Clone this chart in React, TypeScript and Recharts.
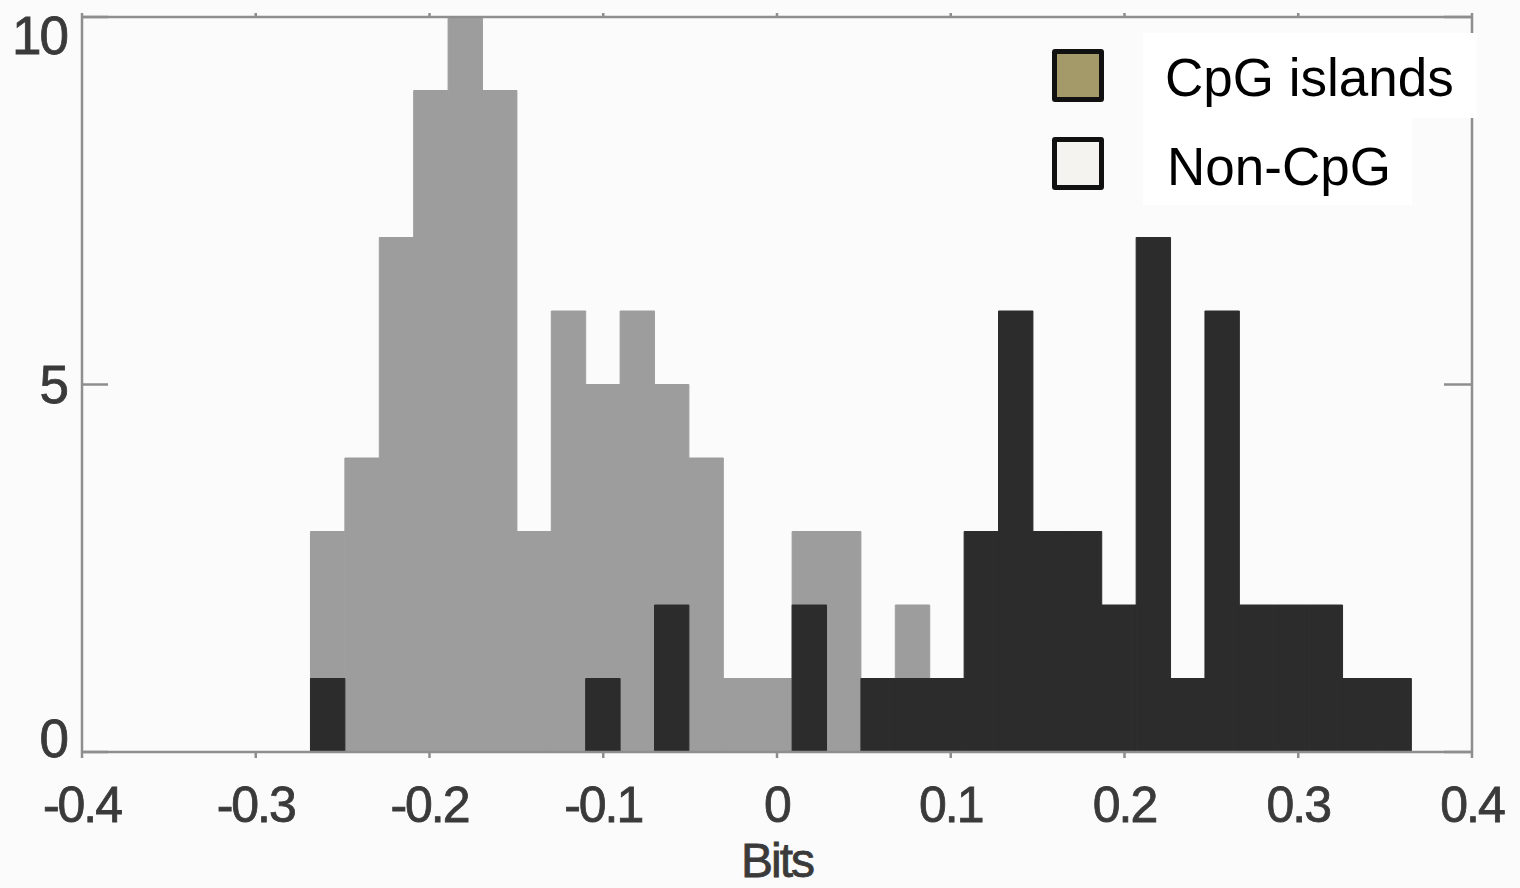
import { BarChart, Bar, XAxis, YAxis, Legend } from 'recharts';

// histogram bin centres (Bits), 32 bins of ~0.0198
const binCenters = [
  -0.2586, -0.2388, -0.219, -0.1992, -0.1794, -0.1596, -0.1398, -0.12,
  -0.1002, -0.0804, -0.0606, -0.0408, -0.021, -0.0012, 0.0186, 0.0384,
  0.0582, 0.078, 0.0978, 0.1176, 0.1374, 0.1572, 0.177, 0.1968,
  0.2166, 0.2364, 0.2562, 0.276, 0.2958, 0.3156, 0.3354, 0.3552,
];

const nonCpgCounts = [
  3, 4, 7, 9, 10, 9, 3, 6, 5, 6, 5, 4, 1, 1, 3, 3,
  0, 2, 0, 0, 0, 0, 0, 0, 0, 0, 0, 0, 0, 0, 0, 0,
];

const cpgCounts = [
  1, 0, 0, 0, 0, 0, 0, 0, 1, 0, 2, 0, 0, 0, 2, 0,
  1, 1, 1, 3, 6, 3, 3, 2, 7, 1, 6, 2, 2, 2, 1, 1,
];

const xTicks = [-0.4, -0.3, -0.2, -0.1, 0, 0.1, 0.2, 0.3, 0.4];
const yTicks = [0, 5, 10];

const legendNames = ['CpG islands', 'Non-CpG'];
const legendSwatches = ['#a49968', '#f4f3ef'];

const data = binCenters.map((bin, i) => ({
  bin,
  nonCpg: nonCpgCounts[i],
  cpg: cpgCounts[i],
}));

const FONT = '"Liberation Sans", Arial, Helvetica, sans-serif';
const TEXT = '#3a3a3a';
const FRAME = '#8e8e8e';
const GRAY = '#9d9d9d';
const DARK = '#2c2c2c';

function YTick(props: any) {
  const { x, y, payload } = props;
  // the end labels sit inside the frame, like the scanned figure
  const shift = payload.value === 10 ? 18 : payload.value === 0 ? -14 : 0;
  return (
    <text
      x={x}
      y={y + shift}
      dy="0.355em"
      textAnchor="end"
      fill={TEXT}
      stroke={TEXT}
      strokeWidth={0.8}
      fontSize={53}
      fontFamily={FONT}
      letterSpacing={-2}
    >
      {payload.value}
    </text>
  );
}

function LegendBox() {
  const rows = [
    { top: 3, height: 85, width: 334, swatchTop: 19, textTop: 21, textLeft: 125 },
    { top: 88, height: 87, width: 269, swatchTop: 107, textTop: 110, textLeft: 127 },
  ];
  return (
    <div style={{ position: 'relative', width: 440, height: 180, fontFamily: FONT }}>
      {legendNames.map((name, i) => (
        <div key={name}>
          <div
            style={{
              position: 'absolute',
              left: 103,
              top: rows[i].top,
              width: rows[i].width,
              height: rows[i].height,
              background: '#ffffff',
            }}
          />
          <div
            style={{
              position: 'absolute',
              left: 12,
              top: rows[i].swatchTop,
              width: 52,
              height: 53,
              boxSizing: 'border-box',
              border: '5px solid #111',
              borderRadius: 3,
              background: legendSwatches[i],
            }}
          />
          <div
            style={{
              position: 'absolute',
              left: rows[i].textLeft,
              top: rows[i].textTop,
              fontSize: 53,
              lineHeight: '53px',
              color: '#000',
              whiteSpace: 'nowrap',
            }}
          >
            {name}
          </div>
        </div>
      ))}
    </div>
  );
}

export default function App() {
  const axisLine = { stroke: FRAME, strokeWidth: 2.5 };
  return (
    <div style={{ position: 'absolute', left: 0, top: 0, width: 1520, height: 888, background: '#fbfbfb' }}>
      <BarChart
        width={1520}
        height={888}
        data={data}
        margin={{ top: 0, right: 0, bottom: 0, left: 0 }}
      >
        <XAxis
          xAxisId="bottom"
          dataKey="bin"
          type="number"
          domain={[-0.4, 0.4]}
          ticks={xTicks}
          allowDataOverflow
          interval={0}
          height={136}
          tickSize={6}
          tickMargin={28}
          axisLine={axisLine}
          tickLine={axisLine}
          tick={{ fill: TEXT, stroke: TEXT, strokeWidth: 0.8, fontSize: 50, fontFamily: FONT, letterSpacing: -2 }}
          label={{ value: 'Bits', position: 'insideBottom', offset: 11, fill: TEXT, stroke: TEXT, strokeWidth: 0.8, fontSize: 48, fontFamily: FONT, letterSpacing: -2 }}
        />
        <XAxis
          xAxisId="top"
          orientation="top"
          dataKey="bin"
          type="number"
          domain={[-0.4, 0.4]}
          ticks={xTicks}
          allowDataOverflow
          interval={0}
          height={17}
          tickSize={4}
          tickFormatter={() => ''}
          axisLine={axisLine}
          tickLine={axisLine}
        />
        <YAxis
          yAxisId="left"
          domain={[0, 10]}
          ticks={yTicks}
          allowDataOverflow
          interval={0}
          width={82}
          tickSize={-26}
          tickMargin={41}
          axisLine={axisLine}
          tickLine={axisLine}
          tick={(p: any) => <YTick {...p} />}
        />
        <YAxis
          yAxisId="right"
          orientation="right"
          domain={[0, 10]}
          ticks={yTicks}
          allowDataOverflow
          interval={0}
          width={48}
          tickSize={-28}
          tickFormatter={() => ''}
          axisLine={axisLine}
          tickLine={axisLine}
        />
        <Bar
          xAxisId="bottom"
          yAxisId="left"
          dataKey="nonCpg"
          name="Non-CpG"
          fill={GRAY}
          stroke={GRAY}
          strokeWidth={1}
          barSize={34.4}
          isAnimationActive={false}
        />
        <Bar
          xAxisId="top"
          yAxisId="right"
          dataKey="cpg"
          name="CpG islands"
          fill={DARK}
          stroke={DARK}
          strokeWidth={1}
          barSize={34.4}
          isAnimationActive={false}
        />
        <Legend
          layout="horizontal"
          verticalAlign="middle"
          align="center"
          wrapperStyle={{ left: 1040, top: 30, width: 440, height: 180 }}
          content={() => <LegendBox />}
        />
      </BarChart>
    </div>
  );
}
